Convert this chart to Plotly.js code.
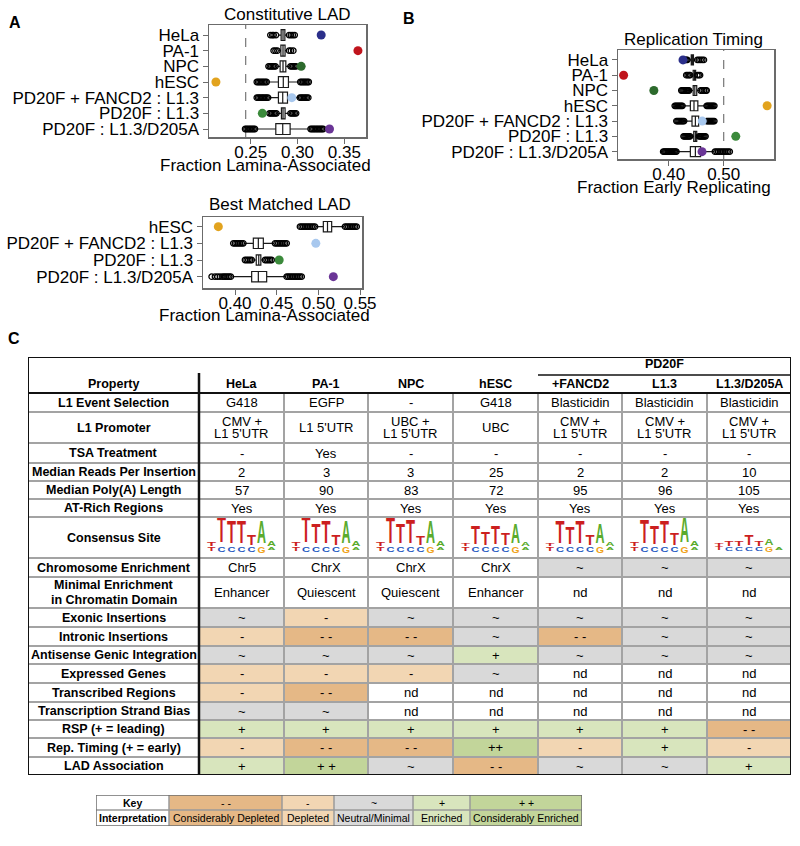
<!DOCTYPE html>
<html><head><meta charset="utf-8">
<script src="https://cdn.plot.ly/plotly-3.0.1.min.js"></script>
<style>html,body{margin:0;padding:0;background:#fff}#chart{width:800px;height:846px}</style>
</head><body><div id="chart"></div>
<script>
// ================= DATA =================
// Panel A (top) - Constitutive LAD
const aCats = ['HeLa','PA-1','NPC','hESC','PD20F + FANCD2 : L1.3','PD20F : L1.3','PD20F : L1.3/D205A'];
const aQ1  = [0.2825,0.2822,0.2814,0.2796,0.2796,0.2828,0.2768];
const aMed = [0.2845,0.2845,0.2845,0.2848,0.2842,0.2845,0.2842];
const aQ3  = [0.2865,0.2867,0.2875,0.2903,0.2893,0.2867,0.2921];
const aLo  = [0.2790,0.2800,0.2785,0.2680,0.2700,0.2790,0.2560];
const aHi  = [0.2890,0.2885,0.2910,0.3020,0.3015,0.2905,0.3120];
const aOutLow = [
  [0.2710,0.2730,0.2745,0.2770],
  [0.2745,0.2765,0.2785],
  [0.2690,0.2705,0.2720,0.2735,0.2750,0.2765],
  [0.2565,0.2580,0.2595,0.2610,0.2625,0.2640,0.2655,0.2670],
  [0.2565,0.2580,0.2595,0.2610,0.2625,0.2640,0.2655,0.2670,0.2685],
  [0.2700,0.2715,0.2730,0.2745,0.2760,0.2775],
  [0.2440,0.2455,0.2470,0.2485,0.2500,0.2515,0.2530,0.2545]
];
const aOutHigh = [
  [0.2910,0.2930,0.2950,0.2970],
  [0.2910,0.2930,0.2955],
  [0.2925,0.2940,0.2955,0.2970,0.2985],
  [0.3030,0.3045,0.3060,0.3075,0.3090,0.3105,0.3120],
  [0.3025,0.3040,0.3055,0.3070,0.3085,0.3100,0.3115],
  [0.2925,0.2940,0.2955,0.2970,0.2985],
  [0.3140,0.3155,0.3170,0.3185,0.3200,0.3215,0.3230,0.3245,0.3260,0.3275]
];
const aObserved = [0.3253,0.3646,0.3039,0.2128,0.2939,0.2624,0.3342];
const aExpected = 0.2446;
const aTicks = [0.25,0.30,0.35];

// Panel A (bottom) - Best Matched LAD
const bmCats = ['hESC','PD20F + FANCD2 : L1.3','PD20F : L1.3','PD20F : L1.3/D205A'];
const bmQ1  = [0.506,0.422,0.4255,0.420];
const bmMed = [0.511,0.428,0.4285,0.428];
const bmQ3  = [0.516,0.434,0.431,0.438];
const bmLo  = [0.497,0.411,0.421,0.397];
const bmHi  = [0.531,0.447,0.435,0.460];
const bmOutLow = [
  [0.478,0.480,0.482,0.484,0.486,0.488,0.490,0.492,0.494,0.496],
  [0.398,0.400,0.402,0.404,0.406,0.408,0.410],
  [0.412,0.414,0.416,0.418,0.420],
  [0.372,0.376,0.379,0.382,0.385,0.387,0.389,0.391,0.393,0.395]
];
const bmOutHigh = [
  [0.532,0.534,0.536,0.538,0.540,0.542,0.544,0.546],
  [0.448,0.450,0.452,0.454,0.456,0.458,0.460,0.462],
  [0.436,0.438,0.440,0.442,0.444],
  [0.462,0.464,0.466,0.468,0.470,0.472,0.474,0.476,0.478,0.480]
];
const bmObserved = [0.380,0.497,0.453,0.518];
const bmTicks = [0.40,0.45,0.50,0.55];

// Panel B - Replication Timing
const rCats = aCats;
const rQ1  = [0.441,0.4445,0.4445,0.4394,0.4424,0.4455,0.4394];
const rMed = [0.443,0.447,0.4475,0.446,0.4485,0.4485,0.4485];
const rQ3  = [0.445,0.449,0.451,0.453,0.4545,0.451,0.458];
const rLo  = [0.437,0.441,0.440,0.426,0.430,0.442,0.415];
const rHi  = [0.449,0.450,0.456,0.467,0.467,0.454,0.483];
const rOutLow = [
  [0.430,0.432,0.434],
  [0.432,0.4345,0.437,0.439],
  [0.423,0.425,0.427,0.429,0.431,0.433,0.435,0.437],
  [0.411,0.413,0.415,0.417,0.419,0.421,0.423,0.425],
  [0.414,0.416,0.418,0.420,0.422,0.424,0.426,0.428],
  [0.427,0.429,0.431,0.433,0.435,0.437,0.439],
  [0.390,0.392,0.394,0.396,0.398,0.400,0.402,0.404,0.406,0.408,0.410,0.412,0.414]
];
const rOutHigh = [
  [0.452,0.455,0.458,0.461,0.464],
  [0.452,0.4545,0.457],
  [0.458,0.461,0.464,0.467,0.469],
  [0.469,0.471,0.473,0.475,0.477,0.479,0.481,0.483],
  [0.469,0.471,0.473,0.475,0.477,0.479,0.481,0.483],
  [0.455,0.457,0.459,0.461,0.463,0.465,0.467],
  [0.484,0.487,0.490,0.493,0.496,0.499,0.502,0.505,0.508,0.511]
];
const rObserved = [0.426,0.318,0.373,0.579,0.461,0.522,0.4606];
const rExpected = 0.50;
const rTicks = [0.40,0.50];

// Panel C - table
const tableGroup = 'PD20F';
const tableHeader = ['Property','HeLa','PA-1','NPC','hESC','+FANCD2','L1.3','L1.3/D205A'];
const properties = ['L1 Event Selection','L1 Promoter','TSA Treatment','Median Reads Per Insertion',
  'Median Poly(A) Length','AT-Rich Regions','Consensus Site','Chromosome Enrichment',
  'Minimal Enrichment<br>in Chromatin Domain','Exonic Insertions','Intronic Insertions',
  'Antisense Genic Integration','Expressed Genes','Transcribed Regions','Transcription Strand Bias',
  'RSP (+ = leading)','Rep. Timing (+ = early)','LAD Association'];
const tableValues = [
  ['G418','EGFP','-','G418','Blasticidin','Blasticidin','Blasticidin'],
  ["CMV +<br>L1 5'UTR","L1 5'UTR","UBC +<br>L1 5'UTR",'UBC',"CMV +<br>L1 5'UTR","CMV +<br>L1 5'UTR","CMV +<br>L1 5'UTR"],
  ['-','Yes','-','-','-','-','-'],
  ['2','3','3','25','2','2','10'],
  ['57','90','83','72','95','96','105'],
  ['Yes','Yes','Yes','Yes','Yes','Yes','Yes'],
  ['','','','','','',''],
  ['Chr5','ChrX','ChrX','ChrX','~','~','~'],
  ['Enhancer','Quiescent','Quiescent','Enhancer','nd','nd','nd'],
  ['~','-','~','~','~','~','~'],
  ['-','- -','- -','~','- -','~','~'],
  ['~','~','~','+','~','~','~'],
  ['-','-','-','~','nd','nd','nd'],
  ['-','- -','nd','nd','nd','nd','nd'],
  ['~','~','nd','nd','nd','nd','nd'],
  ['+','+','+','+','+','+','- -'],
  ['-','- -','- -','++','-','+','-'],
  ['+','+ +','~','- -','~','~','+']
];
const ratedFromRow = 7;
const logoRow = 6;
const logoLetters = ['T','T','T','T','T','A','A'];
const logoHeights = [
  [4,27,22,23,10,23,5],
  [4,27,20,23,10,23,5],
  [4,26,20,24,9,22,5],
  [3,18,13,18,12,20,4],
  [3,23,17,23,10,20,4],
  [4,24,18,23,12,27,5],
  [3,5,5,10,5,7,0]
];
const logoBaseLetters = ['T','C','C','C','C','G','A'];
const logoBaseHeights = [4,5,5,5,5,6,3];

const keySymbols = ['- -','-','~','+','+ +'];
const keyMeanings = ['Considerably Depleted','Depleted','Neutral/Minimal','Enriched','Considerably Enriched'];

// ================= STYLE / LAYOUT =================
const FONT = 'Liberation Sans, Arial, Helvetica, sans-serif';
const pointColor = {'HeLa':'#2b2f8a','PA-1':'#c0141c','NPC':'#2d6a2d','hESC':'#e2a31e',
  'PD20F + FANCD2 : L1.3':'#a8c8ee','PD20F : L1.3':'#3b8a3b','PD20F : L1.3/D205A':'#6a3596'};
const ratingColors = ['#ffffff','#e5b886','#f2d6b3','#d9d9d9','#d8e5bd','#c2d59a'];
const logoColor = {T:'#cc1f1f',A:'#5aab2d',C:'#2257c0',G:'#f0a21a'};
const letterEm = {T:0.611,A:0.722,C:0.722,G:0.778};
const colEdges = [28,199,284,368,453,538,622,707,791];
const rowEdges = [393,412,443,463,481,499,517,558,577,608,627,646,664,683,702,720,738,757,775];
const keyColEdges = [96,169,282,334,413,470,582];
const keyRowEdges = [795,810,826];
const W = 800, H = 846;
const PX = x => x / W, PY = y => 1 - y / H;

function code(v){
  const s = v.replace(/\s/g,'');
  if (s === '--') return 1;
  if (s === '-') return 2;
  if (s === '~') return 3;
  if (s === '+') return 4;
  if (s === '++') return 5;
  return 0;
}

function panelTraces(cats,q1,med,q3,lo,hi,outLo,outHi,obs,xa,ya,bw){
  const tr = [];
  tr.push({type:'box',orientation:'h',y:cats,q1:q1,median:med,q3:q3,lowerfence:lo,upperfence:hi,
    xaxis:xa,yaxis:ya,boxpoints:false,fillcolor:'#ffffff',line:{color:'#1a1a1a',width:1.2},
    width:bw,whiskerwidth:0,hoverinfo:'skip'});
  const ox=[], oy=[];
  cats.forEach((c,i)=>{ outLo[i].concat(outHi[i]).forEach(v=>{ox.push(v);oy.push(c);}); });
  tr.push({type:'scatter',mode:'markers',x:ox,y:oy,xaxis:xa,yaxis:ya,
    marker:{symbol:'circle-open',size:5.5,color:'#000',line:{width:1.3,color:'#000'}},hoverinfo:'skip'});
  tr.push({type:'scatter',mode:'markers',x:obs,y:cats,xaxis:xa,yaxis:ya,
    marker:{size:9,color:cats.map(c=>pointColor[c])},hoverinfo:'skip'});
  return tr;
}

let traces = [];
traces = traces.concat(panelTraces(aCats,aQ1,aMed,aQ3,aLo,aHi,aOutLow,aOutHigh,aObserved,'x','y',0.7));
traces = traces.concat(panelTraces(bmCats,bmQ1,bmMed,bmQ3,bmLo,bmHi,bmOutLow,bmOutHigh,bmObserved,'x2','y2',0.62));
traces = traces.concat(panelTraces(rCats,rQ1,rMed,rQ3,rLo,rHi,rOutLow,rOutHigh,rObserved,'x3','y3',0.65));

// table heatmap
const zTable = properties.map((p,i)=>[0].concat(tableValues[i].map(v => i >= ratedFromRow ? code(v) : 0)));
const cs = ratingColors.map((c,i)=>[i/(ratingColors.length-1), c]);
traces.push({type:'heatmap',x:colEdges,y:rowEdges,z:zTable,zmin:0,zmax:5,colorscale:cs,showscale:false,
  xaxis:'x4',yaxis:'y4',hoverinfo:'skip'});
// key heatmap
const keyRow = [0].concat(keySymbols.map(code));
traces.push({type:'heatmap',x:keyColEdges,y:keyRowEdges,z:[keyRow,keyRow],zmin:0,zmax:5,colorscale:cs,showscale:false,
  xaxis:'x5',yaxis:'y5',hoverinfo:'skip'});

// sequence logos (text trace)
const lx=[], ly=[], lt=[], ls=[], lc=[], lscale=[];
const logoTop = rowEdges[logoRow], logoBaseline = logoTop + 29.5;
for (let j=0;j<logoHeights.length;j++){
  const cx = (colEdges[j+1]+colEdges[j+2])/2;
  for (let k=0;k<logoLetters.length;k++){
    const xk = cx + (k-3)*10;
    const h = logoHeights[j][k];
    if (h>0){
      const fs = h/0.716;
      lx.push(xk); ly.push(logoBaseline - h/2); lt.push(logoLetters[k]); ls.push(fs);
      lc.push(logoColor[logoLetters[k]]); lscale.push(9/(letterEm[logoLetters[k]]*fs));
    }
    const hb = logoBaseHeights[k]*(j===6?0.8:1);
    const fb = hb/0.716;
    lx.push(xk); ly.push(logoBaseline + 1 + hb/2); lt.push(logoBaseLetters[k]); ls.push(fb);
    lc.push(logoColor[logoBaseLetters[k]]); lscale.push(8/(letterEm[logoBaseLetters[k]]*fb));
  }
}
traces.push({type:'scatter',mode:'text',x:lx,y:ly,text:lt,textposition:'middle center',
  textfont:{family:FONT,size:ls,color:lc,weight:'bold'},xaxis:'x4',yaxis:'y4',hoverinfo:'skip',cliponaxis:false});

// ---------- axes ----------
const axFrame = {showline:true,mirror:true,linecolor:'#6b6b6b',linewidth:1.5,ticks:'outside',ticklen:5,
  tickcolor:'#6b6b6b',tickwidth:1,showgrid:false,zeroline:false,tickfont:{family:FONT,size:17,color:'#000'},fixedrange:true};
function catAxis(cats,dom,anchor,range){
  return Object.assign({},axFrame,{domain:dom,anchor:anchor,type:'category',categoryorder:'array',
    categoryarray:cats,tickmode:'array',tickvals:cats,ticktext:cats,range:range,ticklabelstandoff:0});
}
function numAxis(ticks,dom,anchor,range){
  return Object.assign({},axFrame,{domain:dom,anchor:anchor,range:range,tickmode:'array',
    tickvals:ticks,ticktext:ticks.map(v=>v.toFixed(2)),ticklabelstandoff:-6});
}
const layout = {
  width:W,height:H,margin:{l:0,r:0,t:0,b:0},paper_bgcolor:'#fff',plot_bgcolor:'rgba(0,0,0,0)',
  showlegend:false,font:{family:FONT,color:'#000'},
  xaxis:numAxis(aTicks,[PX(209),PX(366)],'y',[0.2054,0.3732]),
  yaxis:catAxis(aCats,[PY(137),PY(25)],'x',[6.51,-0.64]),
  xaxis2:numAxis(bmTicks,[PX(203),PX(362)],'y2',[0.3616,0.5524]),
  yaxis2:catAxis(bmCats,[PY(288),PY(217)],'x2',[3.68,-0.58]),
  xaxis3:numAxis(rTicks,[PX(618),PX(774)],'y3',[0.3078,0.5915]),
  yaxis3:catAxis(rCats,[PY(159),PY(50)],'x3',[6.48,-0.65]),
  xaxis4:{domain:[PX(colEdges[0]),PX(colEdges[8])],anchor:'y4',range:[colEdges[0],colEdges[8]],visible:false,fixedrange:true},
  yaxis4:{domain:[PY(775),PY(357)],anchor:'x4',range:[775,357],visible:false,fixedrange:true},
  xaxis5:{domain:[PX(keyColEdges[0]),PX(keyColEdges[6])],anchor:'y5',range:[keyColEdges[0],keyColEdges[6]],visible:false,fixedrange:true},
  yaxis5:{domain:[PY(826),PY(795)],anchor:'x5',range:[826,795],visible:false,fixedrange:true},
  shapes:[],annotations:[]
};

// reference lines
layout.shapes.push({type:'line',xref:'x',yref:'y domain',x0:aExpected,x1:aExpected,y0:0,y1:1,
  line:{color:'#777',width:1.2,dash:'dash'},layer:'below'});
layout.shapes.push({type:'line',xref:'x3',yref:'y3 domain',x0:rExpected,x1:rExpected,y0:0,y1:1,
  line:{color:'#777',width:1.2,dash:'dash'},layer:'below'});

// table grid
const GRID = '#a3a3a3';
for (let i=1;i<rowEdges.length-1;i++){
  layout.shapes.push({type:'line',xref:'x4',yref:'y4',x0:colEdges[0],x1:colEdges[8],y0:rowEdges[i],y1:rowEdges[i],line:{color:GRID,width:2}});
}
for (let j=2;j<colEdges.length-1;j++){
  layout.shapes.push({type:'line',xref:'x4',yref:'y4',x0:colEdges[j],x1:colEdges[j],y0:rowEdges[0],y1:rowEdges[rowEdges.length-1],line:{color:GRID,width:2}});
}
layout.shapes.push({type:'line',xref:'x4',yref:'y4',x0:colEdges[0],x1:colEdges[8],y0:rowEdges[0],y1:rowEdges[0],line:{color:'#111',width:2}});
layout.shapes.push({type:'line',xref:'x4',yref:'y4',x0:colEdges[1],x1:colEdges[1],y0:373,y1:rowEdges[rowEdges.length-1],line:{color:'#111',width:2.5}});
layout.shapes.push({type:'line',xref:'x4',yref:'y4',x0:colEdges[5],x1:colEdges[8],y0:375,y1:375,line:{color:'#111',width:1.5}});
layout.shapes.push({type:'rect',xref:'x4',yref:'y4',x0:colEdges[0],x1:colEdges[8],y0:357,y1:775,line:{color:'#111',width:2}});

// key grid
for (let j=1;j<keyColEdges.length-1;j++){
  layout.shapes.push({type:'line',xref:'x5',yref:'y5',x0:keyColEdges[j],x1:keyColEdges[j],y0:keyRowEdges[0],y1:keyRowEdges[2],line:{color:'#9a9a9a',width:1.5}});
}
layout.shapes.push({type:'line',xref:'x5',yref:'y5',x0:keyColEdges[0],x1:keyColEdges[6],y0:keyRowEdges[1],y1:keyRowEdges[1],line:{color:'#9a9a9a',width:1.5}});
layout.shapes.push({type:'rect',xref:'x5',yref:'y5',x0:keyColEdges[0],x1:keyColEdges[6],y0:keyRowEdges[0],y1:keyRowEdges[2],line:{color:'#6e6e6e',width:1.5}});

// ---------- text ----------
const A = layout.annotations;
function pTxt(text,x,y,size,bold){
  A.push({text:text,xref:'paper',yref:'paper',x:PX(x),y:PY(y),showarrow:false,
    xanchor:'center',yanchor:'middle',font:{family:FONT,size:size,color:'#000',weight:bold?'bold':'normal'}});
}
pTxt('A',15,23,16,true);
pTxt('B',409,19,16,true);
pTxt('C',14,338,16,true);
pTxt('Constitutive LAD',287,14,17,false);
pTxt('Fraction Lamina-Associated',265,166,17,false);
pTxt('Best Matched LAD',280,205,17,false);
pTxt('Fraction Lamina-Associated',264,315,17,false);
pTxt('Replication Timing',693,40,17,false);
pTxt('Fraction Early Replicating',674,187,17,false);

function tTxt(text,x,y,size,bold,xr,yr,gap){
  const lines = text.split('<br>');
  lines.forEach((ln,k)=>{
    A.push({text:ln,xref:xr||'x4',yref:yr||'y4',x:x,y:y+(k-(lines.length-1)/2)*(gap||12.5),showarrow:false,
      xanchor:'center',yanchor:'middle',font:{family:FONT,size:size,color:'#000',weight:bold?'bold':'normal'}});
  });
}
// headers
tTxt(tableGroup,(colEdges[5]+colEdges[8])/2,364,12.5,true);
tableHeader.forEach((h,j)=>tTxt(h,(colEdges[j]+colEdges[j+1])/2,384,12.5,true));
properties.forEach((p,i)=>{
  const yc = (rowEdges[i]+rowEdges[i+1])/2;
  tTxt(p,(colEdges[0]+colEdges[1])/2,yc,12.5,true,null,null,14.5);
  tableValues[i].forEach((v,j)=>{
    if (v) tTxt(v,(colEdges[j+1]+colEdges[j+2])/2,yc,13,false);
  });
});
// key text
const keyRowLabels = ['Key','Interpretation'];
[keySymbols,keyMeanings].forEach((arr,r)=>{
  const yc = (keyRowEdges[r]+keyRowEdges[r+1])/2;
  tTxt(keyRowLabels[r],(keyColEdges[0]+keyColEdges[1])/2,yc,10.5,true,'x5','y5');
  arr.forEach((t,j)=>tTxt(t,(keyColEdges[j+1]+keyColEdges[j+2])/2,yc,10.5,false,'x5','y5'));
});

Plotly.newPlot('chart',traces,layout,{staticPlot:true,responsive:false}).then(gd=>{
  // narrow the logo letters horizontally (sequence-logo style)
  const nodes = gd.querySelectorAll('.scatterlayer g.textpoint text');
  nodes.forEach((t,i)=>{
    if (i>=lscale.length) return;
    const x = parseFloat(t.getAttribute('x'))||0;
    const prev = t.getAttribute('transform')||'';
    t.setAttribute('transform',prev+' translate('+x+',0) scale('+lscale[i].toFixed(3)+',1) translate('+(-x)+',0)');
  });
});
</script></body></html>
